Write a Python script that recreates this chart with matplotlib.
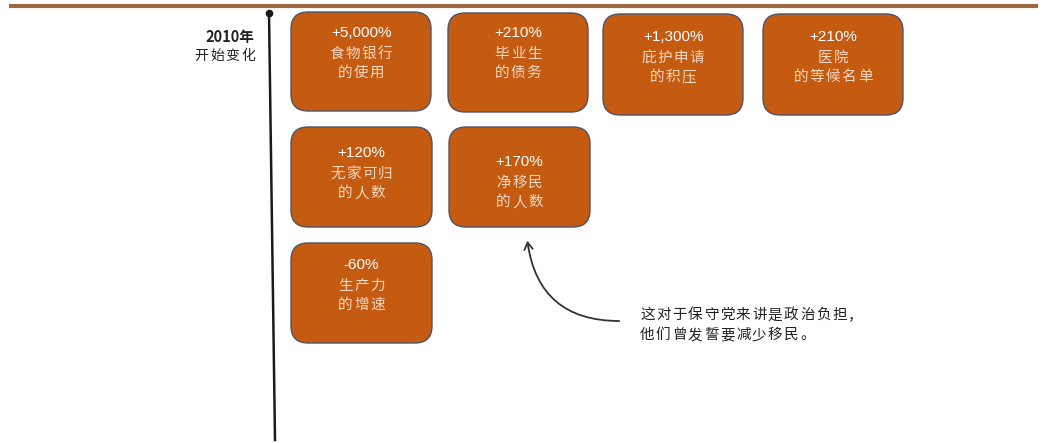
import matplotlib
matplotlib.use("Agg")
import matplotlib.pyplot as plt
from matplotlib.patches import FancyBboxPatch, FancyArrowPatch

plt.rcParams['font.family'] = ['Noto Sans CJK SC', 'DejaVu Sans']

# Percentage change since 2010 for each indicator
changes = [5000, 210, 1300, 210, 120, 170, -60]
indicators = [
    ["食物银行", "的使用"],
    ["毕业生", "的债务"],
    ["庇护申请", "的积压"],
    ["医院", "的等候名单"],
    ["无家可归", "的人数"],
    ["净移民", "的人数"],
    ["生产力", "的增速"],
]
start_label = ["2010年", "开始变化"]
note_lines = ["这对于保守党来讲是政治负担，", "他们曾发誓要减少移民。"]

# Box layout in pixel space: (left, top, width, height, text offset)
boxes = [
    (291, 12, 140, 99, 21),
    (448, 13, 140, 99, 20),
    (603, 14, 140, 101, 23),
    (763, 14, 140, 101, 23),
    (291, 127, 141, 100, 26),
    (449, 127, 141, 100, 35),
    (291, 243, 141, 100, 22),
]

W, H = 1043, 443
fig = plt.figure(figsize=(W / 100, H / 100), dpi=100)
ax = fig.add_axes([0, 0, 1, 1])
ax.set_xlim(0, W)
ax.set_ylim(H, 0)
ax.axis("off")

box_color = "#C55A11"
edge_color = "#4d5566"
cjk_color = "#f6d9c3"


def spaced_text(x, y, s, size, pitch, ha="center", **kw):
    """Draw full-width text one glyph at a time with a fixed pitch (px),
    all glyphs sharing one baseline."""
    glyph = size * 100 / 72
    total = (len(s) - 1) * pitch + glyph
    if ha == "center":
        x0 = x - total / 2
    elif ha == "right":
        x0 = x - total
    else:
        x0 = x
    base = y + 0.36 * glyph
    for i, ch in enumerate(s):
        ax.text(x0 + glyph / 2 + i * pitch, base, ch, ha="center",
                va="baseline", fontsize=size, **kw)


# top rule
ax.plot([9, 1038], [6, 6], color="#9c6a42", lw=3, solid_capstyle="butt")

# timeline
ax.plot([269, 275], [13, 440], color="#1a1a1a", lw=1.8)
ax.plot([269], [13], "o", color="#1a1a1a", ms=4.5)

ax.text(254, 37, start_label[0], ha="right", va="center", fontsize=10.5,
        fontweight="bold", color="#222222")
spaced_text(255, 55, start_label[1], 10, 15.5, ha="right", color="#222222")

for (x, y, w, h, off), val, lines in zip(boxes, changes, indicators):
    r = 17
    patch = FancyBboxPatch((x + r, y + r), w - 2 * r, h - 2 * r,
                           boxstyle=f"round,pad={r}", facecolor=box_color,
                           edgecolor=edge_color, lw=1.0)
    ax.add_patch(patch)
    cx = x + w / 2
    ty = y + off
    ax.text(cx, ty, f"{val:+,}%", ha="center", va="center", fontsize=11,
            color="white", family=["Liberation Sans", "DejaVu Sans"])
    for i, ln in enumerate(lines):
        spaced_text(cx, ty + 19.5 * (i + 1), ln, 10.5, 16, color=cjk_color)

# annotation arrow and note
arrow = FancyArrowPatch((622, 321), (527, 238),
                        connectionstyle="arc3,rad=-0.45",
                        arrowstyle="->,head_length=5,head_width=3",
                        color="#333333", lw=1.3)
ax.add_patch(arrow)
spaced_text(640, 314, note_lines[0], 10.5, 16, ha="left", color="#222222")
spaced_text(640, 334, note_lines[1], 10.5, 16, ha="left", color="#222222")

fig.savefig("out.png", dpi=100)
